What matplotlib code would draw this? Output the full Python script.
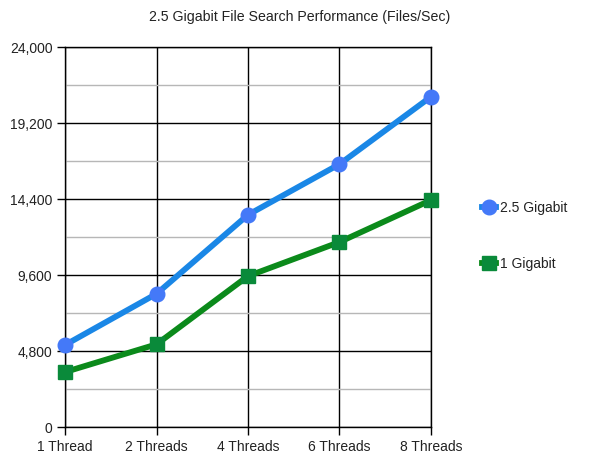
import matplotlib.pyplot as plt
from matplotlib.ticker import FuncFormatter

threads = ['1 Thread', '2 Threads', '4 Threads', '6 Threads', '8 Threads']
gig25 = [5200, 8430, 13420, 16620, 20880]
gig1 = [3490, 5240, 9550, 11700, 14350]
y_ticks = [0, 4800, 9600, 14400, 19200, 24000]
y_minor = [2400, 7200, 12000, 16800, 21600]

plt.rcParams['font.family'] = ['Liberation Sans', 'DejaVu Sans']

fig = plt.figure(figsize=(6, 4.63), dpi=100)
ax = fig.add_axes([65 / 600, 1 - 427.3 / 463, 366 / 600, 380 / 463])

x = list(range(len(threads)))
ax.plot(x, gig25, color='#1a87e6', linewidth=4.2, marker='o', markersize=10.5,
        markerfacecolor='#4479f8', markeredgecolor='#4479f8', label='2.5 Gigabit',
        zorder=4, clip_on=False)
ax.plot(x, gig1, color='#0b8a1b', linewidth=4.2, marker='s', markersize=10,
        markerfacecolor='#0a8a3a', markeredgecolor='#0a8a3a', label='1 Gigabit',
        zorder=3, clip_on=False)

ax.set_xlim(0, len(threads) - 1)
ax.set_ylim(0, 24000)
ax.set_xticks(x)
ax.set_xticklabels(threads)
ax.set_yticks(y_ticks)
ax.set_yticks(y_minor, minor=True)
ax.yaxis.set_major_formatter(FuncFormatter(lambda v, p: f'{int(v):,}'))

ax.grid(True, which='major', color='black', linewidth=1)
ax.grid(True, which='minor', axis='y', color='#b7b7b7', linewidth=1)
ax.set_axisbelow(True)
for s in ax.spines.values():
    s.set_color('black')
    s.set_linewidth(1)

ax.tick_params(axis='both', which='major', length=6, width=1, color='black',
               labelsize=10, labelcolor='#222222', pad=3)
ax.tick_params(axis='y', which='minor', length=0)

fig.text(0.5, 1 - 17 / 463, '2.5 Gigabit File Search Performance (Files/Sec)',
         ha='center', va='center', fontsize=10.2, color='#222222')

leg = ax.legend(loc='center left', bbox_to_anchor=(482 / 600, 1 - 236 / 463),
                bbox_transform=fig.transFigure, frameon=False, fontsize=10,
                handlelength=1.0, handletextpad=0.3, labelspacing=3.0,
                borderaxespad=0, borderpad=0)
for t in leg.get_texts():
    t.set_color('#222222')

plt.savefig('out.png', dpi=100)
